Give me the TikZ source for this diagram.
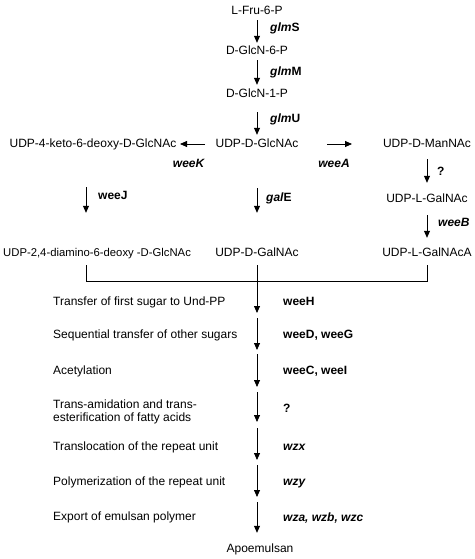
\documentclass[tikz,border=0pt]{standalone}
\usepackage{fontspec}
\setmainfont{Liberation Sans}
\usetikzlibrary{arrows.meta}
\begin{document}
\begin{tikzpicture}[x=1pt,y=-1pt,
  every node/.style={font=\fontsize{12}{12.5}\selectfont},
  chem/.style={inner sep=0pt,text height=8.3pt,text depth=0pt},
  gene/.style={inner sep=0pt,text height=8.3pt,text depth=0pt,anchor=west,font=\fontsize{12}{12.5}\selectfont\bfseries},
  stepbox/.style={inner sep=0pt,text height=8.3pt,text depth=0pt,anchor=west},
  arr/.style={line width=0.8pt,-{Triangle[length=7pt,width=6pt]}},
  ln/.style={line width=0.8pt}]
\useasboundingbox (0,0) rectangle (474,559);
% chemical nodes
\node[chem] (fru) at (257,10) {L-Fru-6-P};
\node[chem] (g6) at (257,50) {D-GlcN-6-P};
\node[chem] (g1) at (257,93) {D-GlcN-1-P};
\node[chem] (glcnac) at (257,143) {UDP-D-GlcNAc};
\node[chem] (keto) at (93,143) {UDP-4-keto-6-deoxy-D-GlcNAc};
\node[chem] (mannac) at (427,143) {UDP-D-ManNAc};
\node[chem] (lgalnac) at (427,198) {UDP-L-GalNAc};
\node[chem] (lgalnaca) at (427,252) {UDP-L-GalNAcA};
\node[chem] (dgalnac) at (257,252) {UDP-D-GalNAc};
\node[chem,anchor=west,font=\fontsize{11.3}{12}\selectfont] (diamino) at (3,252) {UDP-2,4-diamino-6-deoxy -D-GlcNAc};
\node[chem] (apo) at (260,548) {Apoemulsan};
% coordinates
\coordinate (jl) at (86,281);
\coordinate (jr) at (427,281);
\coordinate (kA) at (205,144);
\coordinate (kB) at (180,144);
\coordinate (aA) at (327,144);
\coordinate (aB) at (352,144);
\coordinate (m1) at (257,313);
\coordinate (p1) at (257,318); \coordinate (p2) at (257,350);
\coordinate (p3) at (257,354); \coordinate (p4) at (257,387);
\coordinate (p5) at (257,392); \coordinate (p6) at (257,422);
\coordinate (p7) at (257,428); \coordinate (p8) at (257,460);
\coordinate (p9) at (257,465); \coordinate (p10) at (257,497);
\coordinate (p11) at (257,502);
% vertical arrows top chain
\draw[arr,shorten <=5.85pt,shorten >=2.85pt] (fru) -- (g6);
\draw[arr,shorten <=5.85pt,shorten >=3.85pt] (g6) -- (g1);
\draw[arr,shorten <=14.85pt,shorten >=3.85pt] (g1) -- (glcnac);
% horizontal arrows
\draw[arr] (kA) -- (kB);
\draw[arr] (aA) -- (aB);
% second level
\draw[arr,shorten <=39.85pt,shorten >=34.85pt] (keto.south -| jl) -- (diamino.north -| jl);
\draw[arr,shorten <=40.85pt,shorten >=34.85pt] (glcnac.south) -- (dgalnac.north);
\draw[arr,shorten <=11.85pt,shorten >=10.85pt] (mannac.south) -- (lgalnac.north);
\draw[arr,shorten <=12.85pt,shorten >=9.85pt] (lgalnac.south) -- (lgalnaca.north);
% collector
\draw[ln] ([yshift=-9pt]diamino.south -| jl) -- (jl) -- (jr) -- ([yshift=-9pt]lgalnaca.south -| jr);
\draw[arr] ([yshift=-9pt]dgalnac.south) -- (m1);
% step arrows
\draw[arr] (p1) -- (p2);
\draw[arr] (p3) -- (p4);
\draw[arr] (p5) -- (p6);
\draw[arr] (p7) -- (p8);
\draw[arr] (p9) -- (p10);
\draw[arr,shorten >=10.85pt] (p11) -- (apo.north -| p11);
% gene labels
\node[gene] (lglmS) at (270,27) {\textit{glm}S};
\node[gene] (lglmM) at (270,71) {\textit{glm}M};
\node[gene] (lglmU) at (270,118) {\textit{glm}U};
\node[gene,anchor=center] (lweeK) at (189,163) {\textit{weeK}};
\node[gene,anchor=center] (lweeA) at (334,163) {\textit{weeA}};
\node[gene] (lq1) at (437,171) {?};
\node[gene] (lweeB) at (438,222) {\textit{weeB}};
\node[gene] (lweeJ) at (98,195) {weeJ};
\node[gene] (lgalE) at (266,197) {\textit{gal}E};
\node[gene] (lweeH) at (283,301) {weeH};
\node[gene] (lweeDG) at (283,334) {weeD, weeG};
\node[gene] (lweeCI) at (283,370) {weeC, weeI};
\node[gene] (lq2) at (283,408) {?};
\node[gene] (lwzx) at (283,446) {\textit{wzx}};
\node[gene] (lwzy) at (283,481) {\textit{wzy}};
\node[gene] (lwza) at (283,517) {\textit{wza, wzb, wzc}};
% step texts
\node[stepbox] (s1) at (53,301) {Transfer of first sugar to Und-PP};
\node[stepbox] (s2) at (53,334) {Sequential transfer of other sugars};
\node[stepbox] (s3) at (53,370) {Acetylation};
\node[inner sep=0pt,anchor=north west,align=left,font=\fontsize{12}{12.5}\selectfont] (s4) at (53,400) {Trans-amidation and trans-\\esterification of fatty acids};
\node[stepbox] (s5) at (53,446) {Translocation of the repeat unit};
\node[stepbox] (s6) at (53,481) {Polymerization of the repeat unit};
\node[stepbox] (s7) at (53,516) {Export of emulsan polymer};
\end{tikzpicture}
\end{document}
